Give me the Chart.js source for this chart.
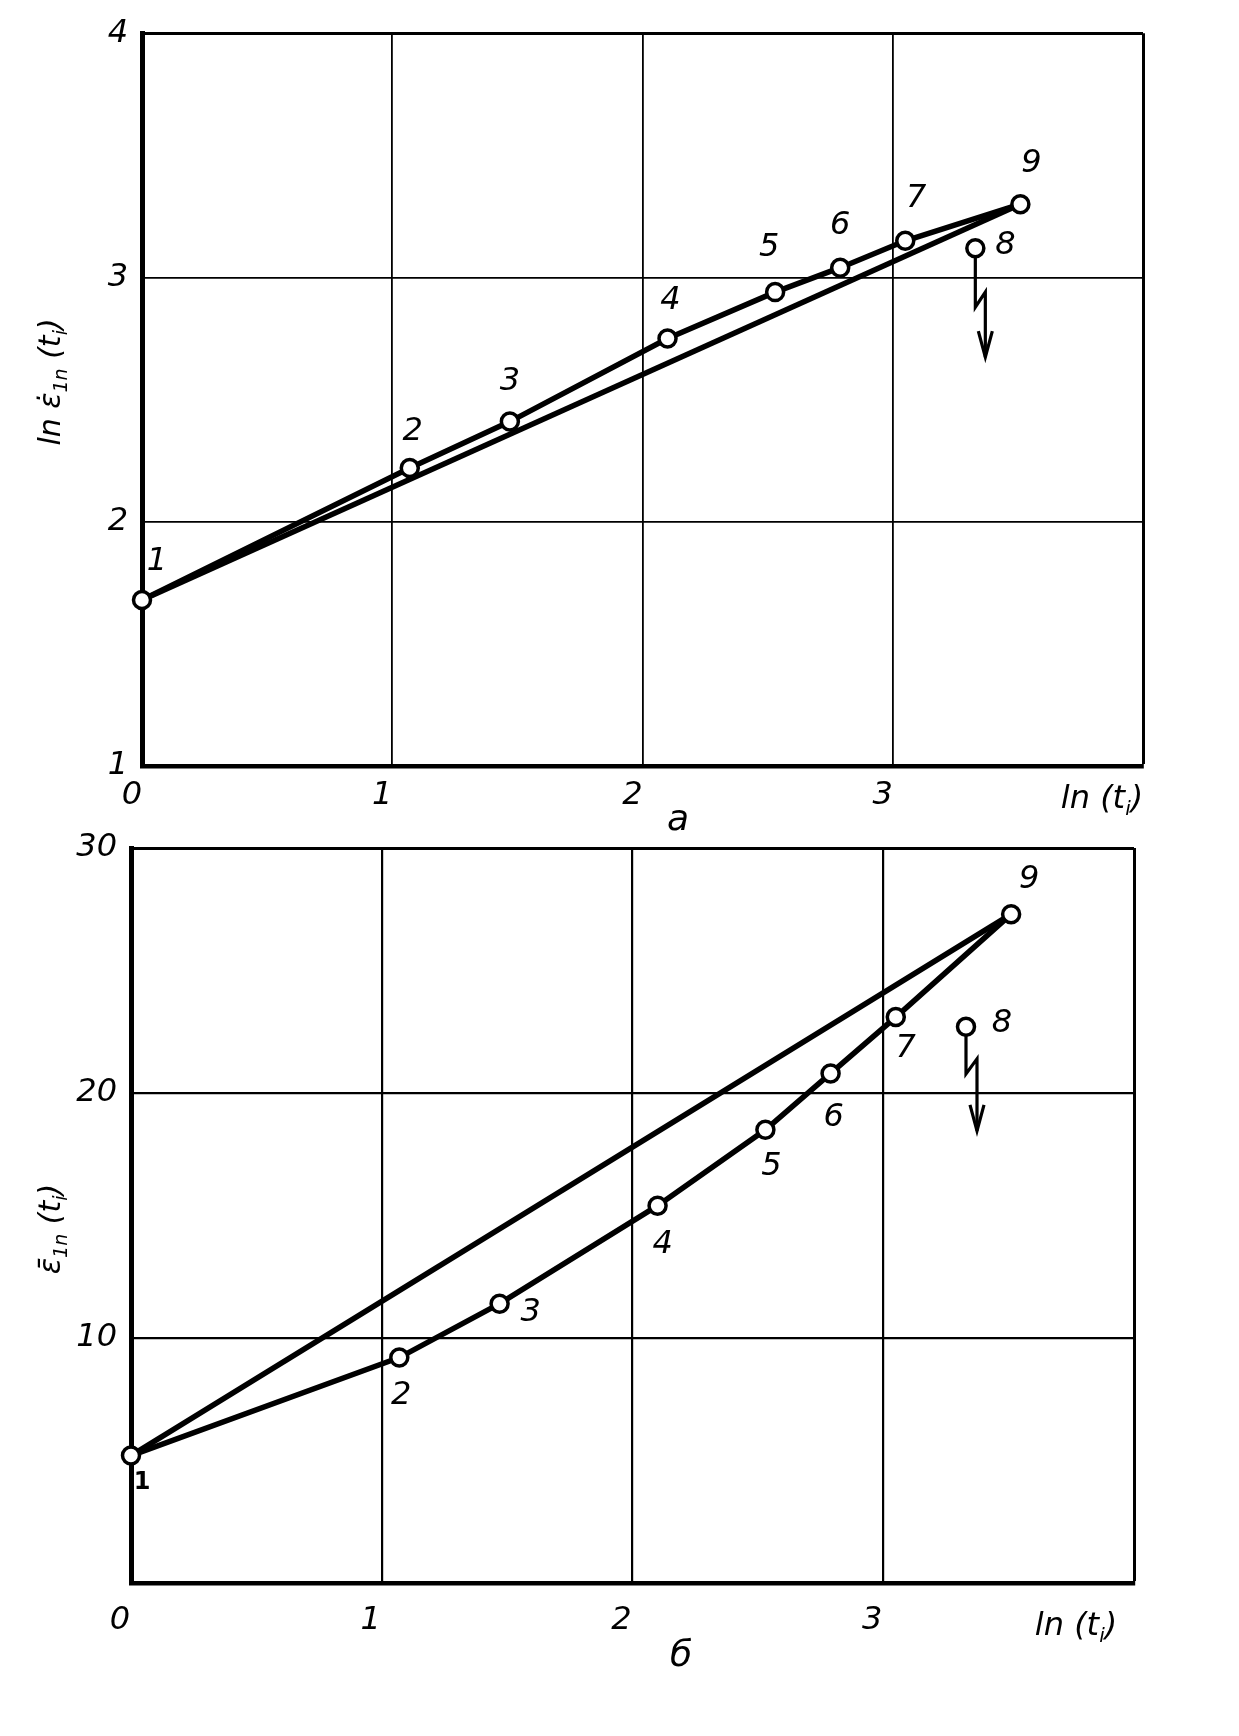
<!DOCTYPE html>
<html>
<head>
<meta charset="utf-8">
<script src="https://cdn.jsdelivr.net/npm/chart.js@4.4.0/dist/chart.umd.min.js"></script>
<style>
  html, body { margin: 0; padding: 0; background: #fff; }
  body { width: 1239px; height: 1736px; position: relative; overflow: hidden; }
  canvas { position: absolute; left: 0; }
  #chartA { top: 0; }
  #chartB { top: 800px; }
</style>
</head>
<body>
<canvas id="chartA" width="1239" height="845"></canvas>
<canvas id="chartB" width="1239" height="936"></canvas>
<script>
// Data: points 1..9, x = ln(t_i)
const pointNames = ['1', '2', '3', '4', '5', '6', '7', '8', '9'];
const lnT = [0.0, 1.07, 1.47, 2.10, 2.53, 2.79, 3.05, 3.33, 3.51];
const lnRate = [1.68, 2.22, 2.41, 2.75, 2.94, 3.04, 3.15, 3.12, 3.30]; // panel а
const strain = [5.2, 9.2, 11.4, 15.4, 18.5, 20.8, 23.1, 22.7, 27.3];   // panel б
const outlier = 7; // point 8 sits off the curve, arrow points down
const xTickLabels = ['0', '1', '2', '3', ''];
const yTicksA = ['1', '2', '3', '4'];
const yTicksB = ['', '10', '20', '30'];

const FONT = '"DejaVu Sans", sans-serif';

// Helpers
function drawRich(ctx, parts, x, y, size, rot) {
  ctx.save();
  ctx.translate(x, y);
  if (rot) ctx.rotate(rot);
  ctx.fillStyle = '#000';
  ctx.textBaseline = 'middle';
  ctx.textAlign = 'left';
  const fontOf = sub => `italic ${sub ? Math.round(size * 0.62) : size}px ${FONT}`;
  const widths = parts.map(([t, sub]) => { ctx.font = fontOf(sub); return ctx.measureText(t).width; });
  let cx = -widths.reduce((a, b) => a + b, 0) / 2;
  parts.forEach(([t, sub], i) => {
    ctx.font = fontOf(sub);
    ctx.fillText(t, cx, sub ? size * 0.32 : 0);
    cx += widths[i];
  });
  ctx.restore();
}

function drawArrow(ctx, px, py, a) {
  ctx.save();
  ctx.strokeStyle = '#000';
  ctx.lineWidth = 3.2;
  ctx.beginPath();
  ctx.moveTo(px, py + 9);
  ctx.lineTo(px, py + a.stem);
  ctx.lineTo(px + a.dx, py + a.stem - a.up);
  ctx.lineTo(px + a.dx, py + a.tip);
  ctx.stroke();
  ctx.beginPath();
  ctx.moveTo(px + a.dx - 7, py + a.tip - 26);
  ctx.lineTo(px + a.dx, py + a.tip);
  ctx.lineTo(px + a.dx + 7, py + a.tip - 26);
  ctx.stroke();
  ctx.restore();
}

const decorPlugin = {
  id: 'decor',
  afterDatasetsDraw(chart) {
    const d = chart.options.plugins.decor;
    const ctx = chart.ctx;
    const xs = chart.scales.x, ys = chart.scales.y;
    ctx.save();
    ctx.fillStyle = '#000';
    ctx.textAlign = 'center';
    ctx.textBaseline = 'middle';
    d.values.forEach((v, i) => {
      const px = xs.getPixelForValue(lnT[i]);
      const py = ys.getPixelForValue(v);
      const off = d.labelOffsets[i];
      ctx.font = (d.boldFirst && i === 0 ? 'bold 24px ' : 'italic 32px ') + FONT;
      ctx.fillText(pointNames[i], px + off[0], py + off[1]);
      if (i === outlier) drawArrow(ctx, px, py, d.arrow);
    });
    ctx.restore();
    drawRich(ctx, d.yTitle, d.yTitlePos[0], d.yTitlePos[1], 30, -Math.PI / 2);
    drawRich(ctx, [['ln (t', 0], ['i', 1], [')', 0]], d.xTitlePos[0], d.xTitlePos[1], 32, 0);
    drawRich(ctx, [[d.letter, 0]], d.letterPos[0], d.letterPos[1], 36, 0);
  }
};

function makeChart(id, c) {
  const main = c.values.map((v, i) => ({ x: lnT[i], y: v })).filter((p, i) => i !== outlier);
  const last = c.values.length - 1;
  const chord = [{ x: lnT[0], y: c.values[0] }, { x: lnT[last], y: c.values[last] }];
  const odd = [{ x: lnT[outlier], y: c.values[outlier] }];
  const pt = { pointRadius: 8.5, pointBorderWidth: 3.5, pointBackgroundColor: '#fff', pointBorderColor: '#000' };
  return new Chart(document.getElementById(id), {
    type: 'scatter',
    data: {
      datasets: [
        Object.assign({ data: main, showLine: true, borderColor: '#000', borderWidth: 5.5, clip: false }, pt),
        { data: chord, showLine: true, borderColor: '#000', borderWidth: 5.5, pointRadius: 0, clip: false },
        Object.assign({ data: odd, showLine: false, clip: false }, pt)
      ]
    },
    options: {
      responsive: false,
      animation: false,
      layout: { padding: c.padding },
      plugins: { legend: { display: false }, tooltip: { enabled: false }, decor: c.decor },
      scales: {
        x: {
          type: 'linear', min: 0, max: 4,
          afterFit: s => { s.height = c.xHeight; },
          afterBuildTicks: s => { s.ticks = [0, 1, 2, 3, 4].map(v => ({ value: v })); },
          ticks: {
            callback: (v, i) => xTickLabels[i],
            padding: c.xPad, labelOffset: c.xLabelOffset, maxRotation: 0,
            color: '#000', font: { family: FONT, size: 32, style: 'italic' }
          },
          grid: { color: '#000', drawTicks: false, lineWidth: g => g.tick && g.tick.value === 4 ? c.edge : c.grid },
          border: { display: true, color: '#000', width: 4.5 }
        },
        y: {
          type: 'linear', min: c.yMin, max: c.yMax,
          afterFit: s => { s.width = c.yWidth; },
          afterBuildTicks: s => { s.ticks = c.yTicks.map((t, i) => ({ value: c.yMin + i * c.yStep })); },
          ticks: {
            callback: (v, i) => c.yTicks[i],
            padding: 14, color: '#000', font: { family: FONT, size: 32, style: 'italic' }
          },
          grid: { color: '#000', drawTicks: false, lineWidth: g => g.tick && g.tick.value === c.yMax ? c.edge : c.grid },
          border: { display: true, color: '#000', width: 5 }
        }
      }
    },
    plugins: [decorPlugin]
  });
}

// Panel а
makeChart('chartA', {
  values: lnRate, yMin: 1, yMax: 4, yStep: 1, yTicks: yTicksA,
  padding: { top: 28, right: 96, left: 0, bottom: 0 },
  yWidth: 142, xHeight: 79, xPad: 10, xLabelOffset: -10, grid: 1.8, edge: 3,
  decor: {
    values: lnRate,
    labelOffsets: [[15, -38], [3, -36], [0, -40], [3, -38], [-6, -44], [0, -42], [11, -42], [30, -2], [11, -40]],
    arrow: { stem: 59, dx: 10, up: 15, tip: 109 },
    yTitle: [['ln ε̇', 0], ['1n', 1], [' (t', 0], ['i', 1], [')', 0]],
    yTitlePos: [52, 382], xTitlePos: [1102, 800],
    letter: 'а', letterPos: [678, 821]
  }
});

// Panel б
makeChart('chartB', {
  values: strain, yMin: 0, yMax: 30, yStep: 10, yTicks: yTicksB,
  padding: { top: 48, right: 105, left: 0, bottom: 0 },
  yWidth: 131, xHeight: 153, xPad: 18, xLabelOffset: -11, grid: 2.2, edge: 3,
  decor: {
    values: strain, boldFirst: true,
    labelOffsets: [[11, 27], [2, 38], [31, 9], [5, 39], [6, 37], [3, 44], [10, 32], [36, -3], [18, -34]],
    arrow: { stem: 47, dx: 11, up: 15, tip: 104 },
    yTitle: [['ε̄', 0], ['1n', 1], [' (t', 0], ['i', 1], [')', 0]],
    yTitlePos: [52, 429], xTitlePos: [1076, 827],
    letter: 'б', letterPos: [681, 857]
  }
});
</script>
</body>
</html>
